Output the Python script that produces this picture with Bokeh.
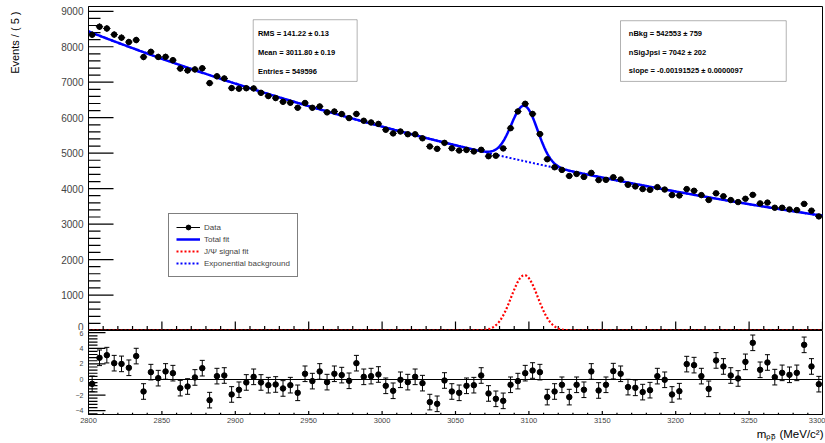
import numpy as np
from bokeh.plotting import figure
from bokeh.models import (ColumnDataSource, Range1d, FixedTicker, Label, Legend, Title,
                          LegendItem, Whisker, TeeHead, BoxAnnotation, Span)
from bokeh.layouts import column, row
from bokeh.embed import file_html
from bokeh.resources import INLINE

# ---------------- data ----------------
x_min, x_max = 2800.0, 3300.0
bin_width = 5.0

counts = [
    8340, 8565, 8515, 8343, 8256, 8133, 8190, 7711, 7856, 7713,
    7715, 7622, 7385, 7332, 7361, 7393, 6975, 7167, 7106, 6835,
    6819, 6831, 6825, 6701, 6609, 6553, 6449, 6421, 6281, 6415,
    6279, 6317, 6150, 6175, 6103, 5989, 6106, 5914, 5865, 5825,
    5660, 5557, 5610, 5534, 5531, 5419, 5189, 5122, 5290, 5137,
    5075, 5091, 5048, 5095, 4914, 4928, 5134, 5704, 6176, 6392,
    6107, 5539, 4829, 4602, 4528, 4357, 4415, 4330, 4444, 4241,
    4248, 4321, 4259, 4108, 4062, 3988, 3966, 4042, 3974, 3818,
    3807, 3986, 3940, 3817, 3680, 3867, 3784, 3678, 3621, 3714,
    3824, 3584, 3606, 3461, 3461, 3414, 3396, 3570, 3379, 3217]

pulls = [
    -0.56, 2.78, 3.12, 2.09, 2.00, 1.50, 3.00, -1.54, 0.94, 0.17,
    1.03, 0.81, -1.11, -0.90, 0.26, 1.45, -2.65, 0.43, 0.51, -1.92,
    -1.32, -0.38, 0.34, -0.38, -0.73, -0.64, -1.15, -0.73, -1.71, 0.73,
    -0.21, 1.03, -0.34, 0.73, 0.56, -0.17, 2.09, 0.34, 0.43, 0.64,
    -0.81, -1.45, -0.04, -0.34, 0.34, -0.47, -2.90, -3.12, -0.13, -1.54,
    -1.71, -0.81, -0.73, 0.51, -1.79, -2.48, -2.74, -0.68, -0.21, 0.81,
    1.15, 0.94, -2.26, -1.54, -0.68, -2.26, -0.68, -1.32, 1.03, -1.41,
    -0.68, 1.07, 0.73, -0.98, -1.07, -1.62, -1.37, 0.43, -0.04, -1.92,
    -1.50, 1.97, 1.84, 0.43, -1.20, 2.44, 1.67, 0.51, 0.13, 2.26,
    4.70, 1.24, 2.18, 0.30, 0.85, 0.60, 0.85, 4.44, 1.67, -0.60]

# fit results
n_bkg = 542553.0
bkg_slope = -0.00191525
n_sig = 7042.0
jpsi_mean = 3097.0
jpsi_sigma = 9.0

stats_left = ["RMS =  141.22  \u00b1  0.13",
              "Mean =  3011.80  \u00b1  0.19",
              "Entries =  549596"]
stats_right = ["nBkg =  542553  \u00b1  759",
               "nSigJpsi =  7042  \u00b1  202",
               "slope = -0.00191525  \u00b1  0.0000097"]

legend_labels = ["Data", "Total fit", "J/\u03a8 signal fit", "Exponential background"]
y_title = "Events / ( 5 )"
x_title = "m\u209a\u209a\u0304 (MeV/c\u00b2)"

y_major = list(range(0, 10000, 1000))
y_minor = [v for v in range(0, 9200, 200) if v % 1000]
x_major = list(range(2800, 3301, 50))
x_minor = [v for v in range(2800, 3301, 10) if v % 50]
p_major = [-4, -2, 0, 2, 4, 6]
p_minor = [round(v, 1) for v in np.arange(-4.4, 6.3, 0.4) if abs(round(v, 1) % 2) > 1e-6]

# ---------------- geometry ----------------
STRIP = 24
W, H_TOP, H_BOT = 825 - STRIP, 330, 113
LEFT, RIGHT, TOP_B, BOT_B = 88 - STRIP, 3, 6, 29
y_top_max = 9135.0
p_lo, p_hi = -4.49, 6.28
frame_w = W - LEFT - RIGHT
px_x = frame_w / (x_max - x_min)
px_y_top = (H_TOP - TOP_B) / y_top_max
px_y_bot = (H_BOT - BOT_B) / (p_hi - p_lo)

# ---------------- derived ----------------
centers = np.arange(x_min + bin_width / 2, x_max, bin_width)
cnt = np.array(counts, dtype=float)
err = np.sqrt(cnt)
pl = np.array(pulls, dtype=float)

xs = np.linspace(x_min, x_max, 1001)
bkg = (n_bkg * bin_width * abs(bkg_slope) * np.exp(bkg_slope * (xs - x_min))
       / (1.0 - np.exp(bkg_slope * (x_max - x_min))))
sig = (n_sig * bin_width / (jpsi_sigma * np.sqrt(2 * np.pi))
       * np.exp(-0.5 * ((xs - jpsi_mean) / jpsi_sigma) ** 2))
tot = bkg + sig

data_src = ColumnDataSource(dict(x=centers, y=cnt, xl=centers - bin_width / 2,
                                 xr=centers + bin_width / 2, lo=cnt - err, hi=cnt + err))
pull_src = ColumnDataSource(dict(x=centers, y=pl, lo=pl - 1.0, hi=pl + 1.0))
curve_src = ColumnDataSource(dict(x=xs, tot=tot, bkg=bkg, sig=sig))

FONT = "Liberation Sans"
BLUE = "#0000ff"
RED = "#ff0000"
TICK = "#000000"


def ticks_y(fig, vals, length_px):
    xs_ = [[x_min, x_min + length_px / px_x] for _ in vals]
    ys_ = [[float(v), float(v)] for v in vals]
    fig.multi_line(xs=xs_, ys=ys_, line_color=TICK, line_width=1.2)


def ticks_x(fig, vals, base, length_data):
    xs_ = [[float(v), float(v)] for v in vals]
    ys_ = [[base, base + length_data] for _ in vals]
    fig.multi_line(xs=xs_, ys=ys_, line_color=TICK, line_width=1.2)


# ---------------- y title strip ----------------
strip = figure(width=STRIP, height=H_TOP + H_BOT, x_range=Range1d(0, STRIP),
               y_range=Range1d(0, H_TOP + H_BOT), output_backend="svg", toolbar_location=None,
               min_border=0, min_border_left=0, min_border_right=0, min_border_top=0,
               min_border_bottom=0)
strip.axis.visible = False
strip.grid.visible = False
strip.outline_line_color = None
strip.add_layout(Label(x=14, y=H_TOP + H_BOT - 11, text=y_title, angle=np.pi / 2,
                       text_align="right", text_baseline="middle", text_font=FONT,
                       text_font_size="11px", text_color="black"))

# ---------------- top panel ----------------
top = figure(width=W, height=H_TOP, x_range=Range1d(x_min, x_max), y_range=Range1d(0, y_top_max),
             output_backend="svg", toolbar_location=None,
             min_border_left=LEFT, min_border_right=RIGHT, min_border_top=TOP_B, min_border_bottom=0)
top.grid.visible = False
top.outline_line_color = "black"
top.xaxis.visible = False

yax = top.yaxis[0]
yax.ticker = FixedTicker(ticks=y_major, minor_ticks=[])
yax.major_tick_in = 0
yax.major_tick_out = 0
yax.minor_tick_in = 0
yax.minor_tick_out = 0
yax.major_label_text_font = FONT
yax.major_label_text_font_size = "10px"
yax.major_label_standoff = 5
yax.axis_line_color = "black"

ticks_y(top, y_major, 25)
ticks_y(top, y_minor, 12)
ticks_x(top, x_major, 0.0, 9 / px_y_top)
ticks_x(top, x_minor, 0.0, 4.5 / px_y_top)

r_sig = top.line("x", "sig", source=curve_src, line_color=RED, line_width=2.2, line_dash="2 2")
r_bkg = top.line("x", "bkg", source=curve_src, line_color=BLUE, line_width=2, line_dash="2 2")
r_tot = top.line("x", "tot", source=curve_src, line_color=BLUE, line_width=2.5)

r_h = top.segment("xl", "y", "xr", "y", source=data_src, line_color="black", line_width=1)
r_v = top.segment("x", "lo", "x", "hi", source=data_src, line_color="black", line_width=1)
r_p = top.scatter("x", "y", source=data_src, size=5.5, color="black")

# stats boxes
top.add_layout(BoxAnnotation(left=2912.2, right=2983.0, top=8762, bottom=7023,
                             fill_color="white", fill_alpha=1, line_color="black", line_width=1))
top.add_layout(BoxAnnotation(left=3162.4, right=3275.3, top=8734, bottom=7023,
                             fill_color="white", fill_alpha=1, line_color="black", line_width=1))
for txt, yy in zip(stats_left, [8377, 7852, 7305]):
    top.add_layout(Label(x=2915.4, y=yy, text=txt, text_font=FONT, text_font_size="7.5px",
                         text_font_style="bold", text_baseline="middle", text_color="black"))
for txt, yy in zip(stats_right, [8368, 7840, 7333]):
    top.add_layout(Label(x=3168.1, y=yy, text=txt, text_font=FONT, text_font_size="7.5px",
                         text_font_style="bold", text_baseline="middle", text_color="black"))

legend = Legend(items=[LegendItem(label=legend_labels[0], renderers=[r_h, r_p]),
                       LegendItem(label=legend_labels[1], renderers=[r_tot]),
                       LegendItem(label=legend_labels[2], renderers=[r_sig]),
                       LegendItem(label=legend_labels[3], renderers=[r_bkg])],
                location=(80, 53), orientation="vertical",
                border_line_color="black", border_line_width=1,
                background_fill_color="white", background_fill_alpha=1,
                label_text_font=FONT, label_text_font_size="8px",
                glyph_width=24, glyph_height=12, label_height=12, label_standoff=4,
                spacing=0, padding=7, margin=0)
top.add_layout(legend)

# ---------------- bottom panel ----------------
bot = figure(width=W, height=H_BOT, x_range=top.x_range, y_range=Range1d(p_lo, p_hi),
             output_backend="svg", toolbar_location=None,
             min_border_left=LEFT, min_border_right=RIGHT, min_border_top=0, min_border_bottom=BOT_B)
bot.grid.visible = False
bot.outline_line_color = "black"

bya = bot.yaxis[0]
bya.ticker = FixedTicker(ticks=p_major, minor_ticks=[])
bya.major_tick_in = 0
bya.major_tick_out = 0
bya.minor_tick_in = 0
bya.minor_tick_out = 0
bya.major_label_text_font = FONT
bya.major_label_text_font_size = "7px"
bya.major_label_standoff = 5

bxa = bot.xaxis[0]
bxa.ticker = FixedTicker(ticks=x_major, minor_ticks=[])
bxa.major_tick_in = 0
bxa.major_tick_out = 0
bxa.minor_tick_in = 0
bxa.minor_tick_out = 0
bxa.major_label_text_font = FONT
bxa.major_label_text_font_size = "7.5px"
bxa.major_label_standoff = 3

bot.add_layout(Title(text=x_title, align="right", text_font=FONT, text_font_size="11.5px",
                     text_font_style="normal", text_color="black", standoff=0, offset=-1),
               "below")

ticks_y(bot, p_major, 17)
ticks_y(bot, p_minor, 9)
ticks_x(bot, x_major, p_lo, 3.5 / px_y_bot)
ticks_x(bot, x_minor, p_lo, 1.8 / px_y_bot)

bot.add_layout(Span(location=0, dimension="width", line_color="black", line_width=1.2))
bot.add_layout(Whisker(base="x", upper="hi", lower="lo", source=pull_src,
                       line_color="black", line_width=1,
                       upper_head=TeeHead(size=5, line_color="black", line_width=1),
                       lower_head=TeeHead(size=5, line_color="black", line_width=1)))
bot.scatter("x", "y", source=pull_src, size=5.5, color="black")

layout = row(strip, column(top, bot, spacing=0), spacing=0)
open("out.html", "w").write(file_html(layout, INLINE))
